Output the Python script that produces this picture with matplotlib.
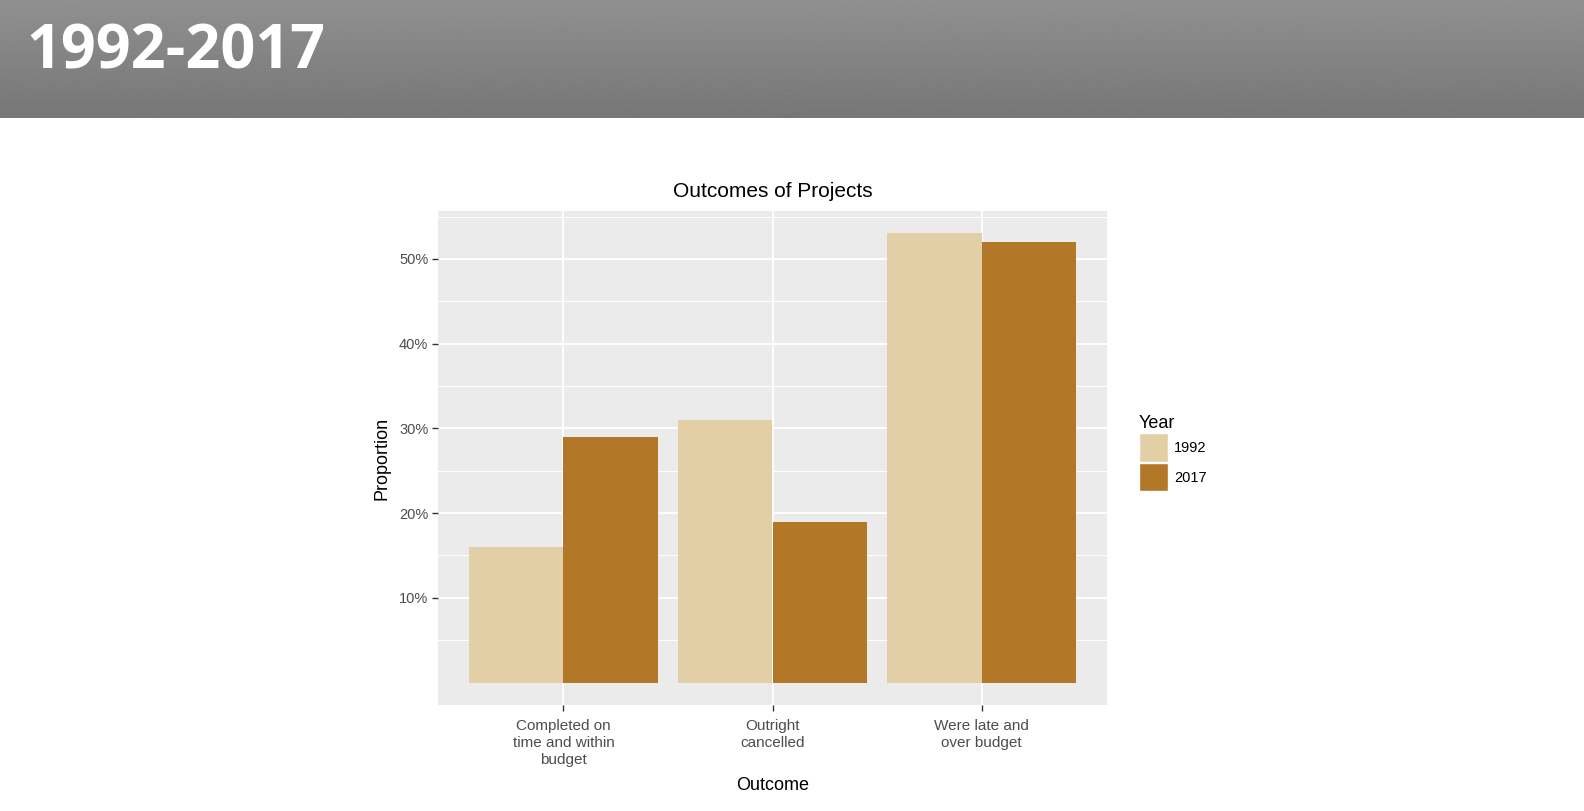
"""Slide: outcomes of projects, 1992 vs 2017."""

import matplotlib
matplotlib.use("Agg")
import matplotlib.pyplot as plt
import numpy as np
from matplotlib.patches import Patch
from matplotlib.ticker import FixedLocator, FuncFormatter

OUTCOMES = ["Completed on\ntime and within\nbudget", "Outright\ncancelled", "Were late and\nover budget"]
YEARS = ["1992", "2017"]
SHARE_1992 = [16, 31, 53]
SHARE_2017 = [29, 19, 52]
YEAR_COLORS = {"1992": "#e3cfa5", "2017": "#b37728"}

W, H = 1584, 811


def main() -> None:
    plt.rcParams["font.family"] = ["Liberation Sans", "DejaVu Sans"]
    fig = plt.figure(figsize=(W / 100, H / 100), dpi=100)
    fig.patch.set_facecolor("white")

    # header band with vertical gradient
    hdr = fig.add_axes([0, 1 - 118 / H, 1, 118 / H])
    grad = np.linspace(0.565, 0.465, 100).reshape(-1, 1)
    hdr.imshow(grad, cmap="gray", vmin=0, vmax=1, aspect="auto", extent=[0, 1, 0, 1])
    hdr.set_axis_off()
    hdr.text(26 / W, 0.55, "1992-2017", color="white", fontsize=44, fontweight="bold",
             family=["Open Sans", "DejaVu Sans"], va="center", ha="left",
             transform=hdr.transAxes)

    ax = fig.add_axes([438 / W, 1 - 705 / H, (1107 - 438) / W, (705 - 211) / H])
    ax.set_facecolor("#ebebeb")

    x = np.arange(1, len(OUTCOMES) + 1)
    width = 0.45
    ax.bar(x - width / 2, SHARE_1992, width=width, color=YEAR_COLORS["1992"], zorder=3)
    ax.bar(x + width / 2, SHARE_2017, width=width, color=YEAR_COLORS["2017"], zorder=3)

    ax.set_xlim(0.4, 3.6)
    top = max(SHARE_1992 + SHARE_2017)
    pad = top * 0.05
    ax.set_ylim(-pad, top + pad)

    ax.yaxis.set_major_locator(FixedLocator([10, 20, 30, 40, 50]))
    ax.yaxis.set_minor_locator(FixedLocator([5, 15, 25, 35, 45, 55]))
    ax.yaxis.set_major_formatter(FuncFormatter(lambda v, _: f"{v:.0f}%"))
    ax.set_xticks(x)
    ax.set_xticklabels(OUTCOMES, linespacing=1.3)

    ax.grid(which="major", color="white", linewidth=1.4, zorder=0)
    ax.grid(which="minor", axis="y", color="white", linewidth=0.7, zorder=0)
    ax.set_axisbelow(True)
    for s in ax.spines.values():
        s.set_visible(False)
    ax.tick_params(which="major", length=4, width=1, color="#333333", labelcolor="#4d4d4d",
                   labelsize=10.5, pad=3)
    ax.tick_params(axis="x", which="major", labelsize=11, pad=6)
    ax.tick_params(which="minor", length=0)

    ax.set_title("Outcomes of Projects", fontsize=15, color="black", pad=10)
    ax.set_xlabel("Outcome", fontsize=13, labelpad=7)
    ax.set_ylabel("Proportion", fontsize=13, labelpad=6)

    handles = [Patch(facecolor=YEAR_COLORS[y], edgecolor="white", label=y) for y in YEARS]
    leg = fig.legend(handles=handles, title="Year", loc="upper left",
                     bbox_to_anchor=(1136 / W, 1 - 412 / H), frameon=False,
                     fontsize=10.5, title_fontsize=13, handlelength=2.0, handleheight=2.6,
                     handletextpad=0.4, labelspacing=0.1, borderaxespad=0, borderpad=0.2)
    leg._legend_box.align = "left"

    fig.savefig("out.png", dpi=100)
    plt.close("all")


if __name__ == "__main__":
    main()
